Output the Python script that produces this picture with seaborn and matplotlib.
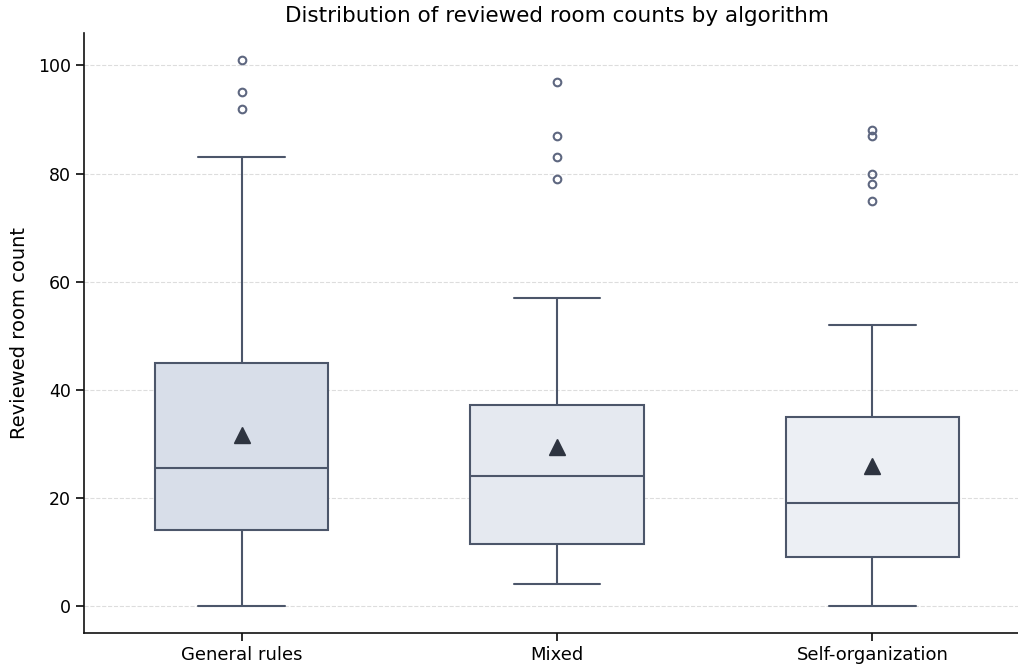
import numpy as np
import pandas as pd
import matplotlib
matplotlib.use("Agg")
import matplotlib.pyplot as plt
import seaborn as sns

# Reviewed room counts per algorithm
algorithms = ["General rules", "Mixed", "Self-organization"]

general_rules = [0, 1, 2, 3, 5, 6, 8, 10, 11, 13,
                 14, 15, 16, 17, 18, 19, 20, 22, 23, 24,
                 25.5, 26, 27, 28, 30, 31, 33, 36, 39, 42,
                 45, 46, 48, 50, 53, 57, 64, 83,
                 92, 95, 101]

mixed = [4, 5, 6, 6, 7, 8, 9, 9, 10, 11,
         11.5, 12, 13, 14, 16, 17, 19, 20, 22, 23,
         24, 25, 26, 27, 29, 30, 32, 33, 35, 36,
         37.2, 38, 41, 44, 48, 52, 57,
         79, 83, 87, 97]

self_organization = [0, 1, 2, 3, 4, 5, 6, 7, 8, 8,
                     9, 9, 10, 11, 12, 13, 14, 15, 16, 18,
                     19, 19, 20, 21, 22, 24, 25, 27, 29, 32,
                     35, 36, 38, 41, 45, 52,
                     75, 78, 80, 87, 88]

box_colors = ["#d8dee9", "#e5e9f0", "#eceff4"]
line_color = "#4c566a"
mean_color = "#2e3440"

df = pd.DataFrame({
    "algorithm": (["General rules"] * len(general_rules)
                  + ["Mixed"] * len(mixed)
                  + ["Self-organization"] * len(self_organization)),
    "count": general_rules + mixed + self_organization,
})

sns.set_theme(style="ticks")
plt.rcParams["font.family"] = ["DejaVu Sans"]
plt.rcParams.update({"text.color": "black", "axes.labelcolor": "black",
                     "xtick.color": "black", "ytick.color": "black"})

fig, ax = plt.subplots(figsize=(10.18, 6.66), dpi=100)
fig.subplots_adjust(left=84 / 1018, right=1030 / 1018, bottom=1 - 633 / 666, top=1 - 33 / 666)

sns.boxplot(
    data=df, x="algorithm", y="count", order=algorithms,
    hue="algorithm", hue_order=algorithms, palette=box_colors, legend=False,
    saturation=1, width=0.55, linewidth=1.5, linecolor=line_color,
    showmeans=True,
    meanprops=dict(marker="^", markerfacecolor=mean_color, markeredgecolor=mean_color, markersize=11),
    flierprops=dict(marker="o", markerfacecolor="none", markeredgecolor="#5e6780",
                    markeredgewidth=1.5, markersize=5.5),
    ax=ax,
)

ax.set_xlim(-0.5, 2.5)
ax.set_ylim(-5, 106)
ax.set_yticks([0, 20, 40, 60, 80, 100])
ax.yaxis.grid(True, linestyle="--", color="#dddddd", linewidth=0.8)
ax.set_axisbelow(True)
sns.despine(ax=ax)
for side in ["left", "bottom"]:
    ax.spines[side].set_color("#111111")
    ax.spines[side].set_linewidth(1.2)

ax.tick_params(axis="both", length=6, color="#111111")
ax.tick_params(axis="x", labelsize=13)
ax.tick_params(axis="y", labelsize=12.5)
ax.set_xlabel("")
ax.set_ylabel("Reviewed room count", fontsize=14, labelpad=6)
ax.set_title("Distribution of reviewed room counts by algorithm", fontsize=15.5, pad=8)

fig.savefig("out.png", dpi=100)
